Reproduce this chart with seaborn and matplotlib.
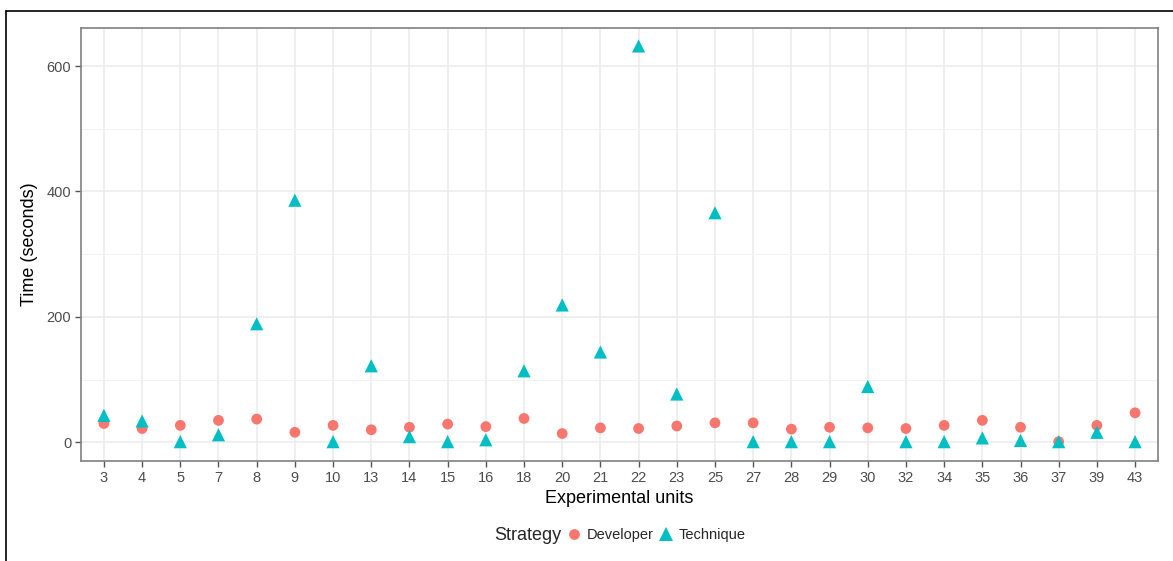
import matplotlib
matplotlib.use("Agg")
import matplotlib.pyplot as plt
from matplotlib.lines import Line2D
import seaborn as sns
import pandas as pd

units = ["3", "4", "5", "7", "8", "9", "10", "13", "14", "15", "16", "18", "20", "21",
         "22", "23", "25", "27", "28", "29", "30", "32", "34", "35", "36", "37", "39", "43"]
developer = [30, 22, 27, 35, 37, 16, 27, 20, 24, 29, 25, 38, 14, 23,
             22, 26, 31, 31, 21, 24, 23, 22, 27, 35, 24, 1, 27, 47]
technique = [43, 34, 1, 12, 189, 386, 1, 122, 9, 1, 4, 114, 219, 144,
             632, 77, 366, 1, 1, 1, 89, 1, 1, 7, 3, 1, 16, 1]
strategies = ["Developer", "Technique"]
colors = {"Developer": "#F8766D", "Technique": "#00BFC4"}
markers = {"Developer": "o", "Technique": "^"}
msizes = {"Developer": 60, "Technique": 90}

df = pd.concat([
    pd.DataFrame({"unit": units, "time": developer, "Strategy": "Developer"}),
    pd.DataFrame({"unit": units, "time": technique, "Strategy": "Technique"}),
], ignore_index=True)

sns.set_theme(style="white")
plt.rcParams["font.family"] = ["Liberation Sans", "DejaVu Sans"]

W, H = 1173, 561
fig = plt.figure(figsize=(W / 100, H / 100), dpi=100)
ax = fig.add_axes([81 / W, 1 - 461 / H, (1158 - 81) / W, (461 - 28) / H])

sns.scatterplot(data=df, x="unit", y="time", hue="Strategy", style="Strategy",
                size="Strategy", sizes=msizes,
                hue_order=strategies, style_order=strategies, size_order=strategies,
                palette=colors, markers=markers, linewidth=0,
                ax=ax, zorder=3)

ax.set_xlim(-0.6, len(units) - 0.4)
ax.set_ylim(-29.8, 660.6)
ax.set_yticks([0, 200, 400, 600])
ax.set_yticks([100, 300, 500], minor=True)
ax.grid(True, which="major", color="#EBEBEB", linewidth=1.1, zorder=0)
ax.grid(True, which="minor", axis="y", color="#F2F2F2", linewidth=0.7, zorder=0)
ax.set_axisbelow(True)
for sp in ax.spines.values():
    sp.set_color("#808080")
    sp.set_linewidth(1.2)
ax.tick_params(axis="both", which="major", length=4, width=1, color="#555555",
               labelsize=10.5, labelcolor="#4D4D4D", pad=3, bottom=True, left=True)
ax.tick_params(axis="y", which="minor", length=0)
ax.set_xlabel("Experimental units", fontsize=13, color="black", labelpad=4)
ax.set_ylabel("Time (seconds)", fontsize=13, color="black", labelpad=6)

sns.move_legend(ax, loc="center left", bbox_to_anchor=(558 / W, 1 - 535 / H),
                bbox_transform=fig.transFigure, ncol=2, title=None, frameon=False,
                fontsize=10.5, handletextpad=0.25, columnspacing=0.3,
                handlelength=1.2, borderpad=0)
fig.text(494 / W, 1 - 535 / H, "Strategy", fontsize=13, ha="left", va="center")

fig.add_artist(Line2D([6 / W, 1.0], [1 - 11 / H, 1 - 11 / H], color="black",
                      linewidth=1.2, transform=fig.transFigure))
fig.add_artist(Line2D([6 / W, 6 / W], [0, 1 - 11 / H], color="black",
                      linewidth=1.2, transform=fig.transFigure))

fig.savefig("out.png", dpi=100, facecolor="white")
